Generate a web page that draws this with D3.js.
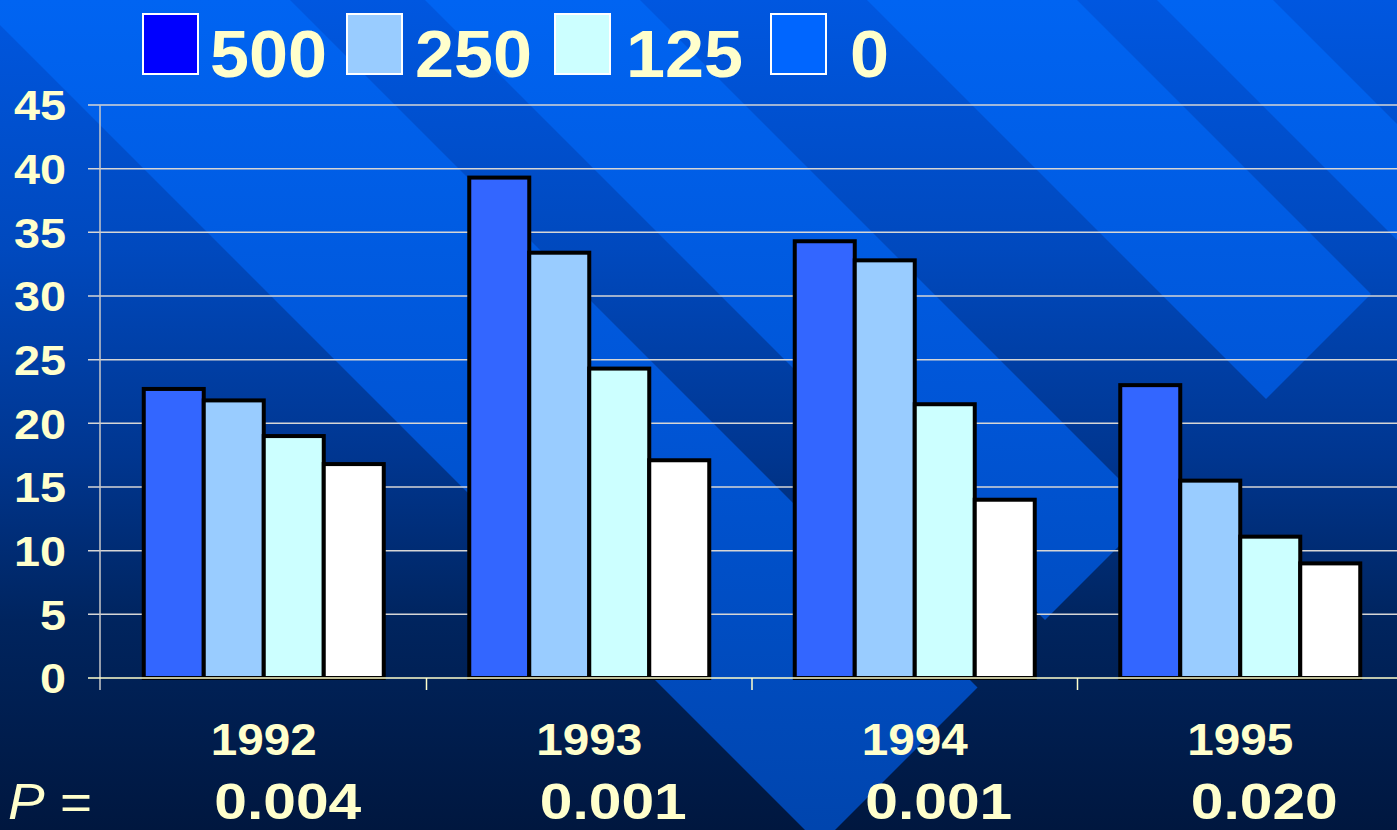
<!DOCTYPE html>
<html>
<head>
<meta charset="utf-8">
<script src="https://cdn.jsdelivr.net/npm/d3@7"></script>
<style>
  html, body { margin: 0; padding: 0; background: #001840; }
  svg { display: block; }
  text { font-family: "Liberation Sans", Arial, sans-serif; fill: #FFFFCC; }
</style>
</head>
<body>
<svg id="chart" width="1397" height="830"></svg>
<script>
// chart data
var years = ["1992", "1993", "1994", "1995"];
var doses = ["500", "250", "125", "0"];
var dose500 = [22.7, 39.3, 34.3, 23.0];
var dose250 = [21.8, 33.4, 32.8, 15.5];
var dose125 = [19.0, 24.3, 21.5, 11.1];
var dose0 = [16.8, 17.1, 14.0, 9.0];
var pValues = ["0.004", "0.001", "0.001", "0.020"];
var yTicks = [0, 5, 10, 15, 20, 25, 30, 35, 40, 45];

var barColors = ["#3366FF", "#99CCFF", "#CCFFFF", "#FFFFFF"];
var legendColors = ["#0000FF", "#99CCFF", "#CCFFFF", "#0066FF"];

var svg = d3.select("#chart"),
  width = +svg.attr("width"),
  height = +svg.attr("height");

// Background: vertical gradient with lighter diagonal stripes
var defs = svg.append("defs");
function grad(id, stops) {
  var g = defs.append("linearGradient").attr("id", id)
    .attr("gradientUnits", "userSpaceOnUse")
    .attr("x1", 0).attr("y1", 0).attr("x2", 0).attr("y2", height);
  stops.forEach(function(s) {
    g.append("stop").attr("offset", s[0]).attr("stop-color", s[1]);
  });
}
grad("bgDark", [[0, "#0057E0"], [0.3, "#0049BE"], [0.55, "#003690"], [0.75, "#00245E"], [1, "#00173F"]]);
grad("bgLight", [[0, "#0064F2"], [0.5, "#0055D6"], [1, "#0045AE"]]);

svg.append("rect").attr("width", width).attr("height", height).attr("fill", "url(#bgDark)");

// stripes run along x - y = const, all cut by the line x + y = cut
var stripes = [[-25, 290], [425, 640], [867, 1077], [1157, 1273]];
var cut = 1665;
svg.append("g")
  .selectAll("polygon")
  .data(stripes)
  .enter().append("polygon")
    .attr("points", function(d) {
      var a = d[0], b = d[1];
      return [[b - 1000, -1000], [a - 1000, -1000], [(cut + a) / 2, (cut - a) / 2], [(cut + b) / 2, (cut - b) / 2]].join(" ");
    })
    .attr("fill", "url(#bgLight)");

// Scales
var y = d3.scaleLinear().domain([0, 45]).range([678, 105]);
var x = d3.scaleBand().domain(years).range([101, 1403]).padding(0);
var groupW = 240;
var xInner = d3.scaleBand().domain(doses).range([0, groupW]).padding(0);

// Gridlines
svg.append("g")
  .selectAll("line")
  .data(yTicks.filter(function(t) { return t > 0; }))
  .enter().append("line")
    .attr("x1", 88).attr("x2", width)
    .attr("y1", function(d) { return y(d); })
    .attr("y2", function(d) { return y(d); })
    .attr("stroke", "#D6D6D6")
    .attr("stroke-width", 1.5);

// Y axis line
svg.append("line")
  .attr("x1", 100).attr("x2", 100)
  .attr("y1", y(45)).attr("y2", 690)
  .attr("stroke", "#C8C8C8").attr("stroke-width", 1.5);

// Y tick labels
svg.append("g")
  .selectAll("text")
  .data(yTicks)
  .enter().append("text")
    .attr("x", 66)
    .attr("y", function(d) { return y(d); })
    .attr("dy", "0.36em")
    .attr("text-anchor", "end")
    .attr("textLength", function(d) { return String(d).length * 26; })
    .attr("lengthAdjust", "spacingAndGlyphs")
    .style("font-size", "43px")
    .style("font-weight", "bold")
    .text(function(d) { return d; });

// Bars
var seriesData = [dose500, dose250, dose125, dose0];
var groups = svg.append("g")
  .selectAll("g")
  .data(years)
  .enter().append("g")
    .attr("transform", function(d) { return "translate(" + (x(d) + (x.bandwidth() - groupW) / 2) + ",0)"; });

groups.selectAll("rect")
  .data(function(d, i) {
    return doses.map(function(k, j) { return {dose: k, idx: j, value: seriesData[j][i]}; });
  })
  .enter().append("rect")
    .attr("x", function(d) { return xInner(d.dose); })
    .attr("width", xInner.bandwidth())
    .attr("y", function(d) { return y(d.value); })
    .attr("height", function(d) { return y(0) - y(d.value); })
    .attr("fill", function(d) { return barColors[d.idx]; })
    .attr("stroke", "#000")
    .attr("stroke-width", 4);

// X axis (zero line) and category ticks
svg.append("line")
  .attr("x1", 88).attr("x2", width)
  .attr("y1", y(0)).attr("y2", y(0))
  .attr("stroke", "#FFFFCC").attr("stroke-width", 1.5);

svg.append("g")
  .selectAll("line")
  .data(years.slice(1))
  .enter().append("line")
    .attr("x1", function(d) { return x(d); })
    .attr("x2", function(d) { return x(d); })
    .attr("y1", y(0)).attr("y2", 690)
    .attr("stroke", "#FFFFCC").attr("stroke-width", 1.5);

// Year labels
svg.append("g")
  .selectAll("text")
  .data(years)
  .enter().append("text")
    .attr("x", function(d) { return x(d) + x.bandwidth() / 2; })
    .attr("y", 755)
    .attr("text-anchor", "middle")
    .attr("textLength", 106)
    .attr("lengthAdjust", "spacingAndGlyphs")
    .style("font-size", "45px")
    .style("font-weight", "bold")
    .text(function(d) { return d; });

// P values row
var pRow = svg.append("text")
  .attr("x", 8).attr("y", 819)
  .attr("textLength", 84)
  .attr("lengthAdjust", "spacingAndGlyphs")
  .style("font-size", "50px");
pRow.append("tspan").style("font-style", "italic").text("P");
pRow.append("tspan").text(" =");

svg.append("g")
  .selectAll("text")
  .data(pValues)
  .enter().append("text")
    .attr("x", function(d, i) { return x(years[i]) + x.bandwidth() / 2 + 24; })
    .attr("y", 819)
    .attr("text-anchor", "middle")
    .attr("textLength", 147)
    .attr("lengthAdjust", "spacingAndGlyphs")
    .style("font-size", "50px")
    .style("font-weight", "bold")
    .text(function(d) { return d; });

// Legend
var legendX = [143, 347, 555, 771];
var legendTextX = [210, 415, 626, 850];
var legend = svg.append("g");
legend.selectAll("rect")
  .data(doses)
  .enter().append("rect")
    .attr("x", function(d, i) { return legendX[i]; })
    .attr("y", 14)
    .attr("width", 55)
    .attr("height", 60)
    .attr("fill", function(d, i) { return legendColors[i]; })
    .attr("stroke", "#FFFFFF")
    .attr("stroke-width", 2);
legend.selectAll("text")
  .data(doses)
  .enter().append("text")
    .attr("x", function(d, i) { return legendTextX[i]; })
    .attr("y", 77)
    .attr("textLength", function(d) { return d.length * 39; })
    .attr("lengthAdjust", "spacingAndGlyphs")
    .style("font-size", "66px")
    .style("font-weight", "bold")
    .text(function(d) { return d; });
</script>
</body>
</html>
